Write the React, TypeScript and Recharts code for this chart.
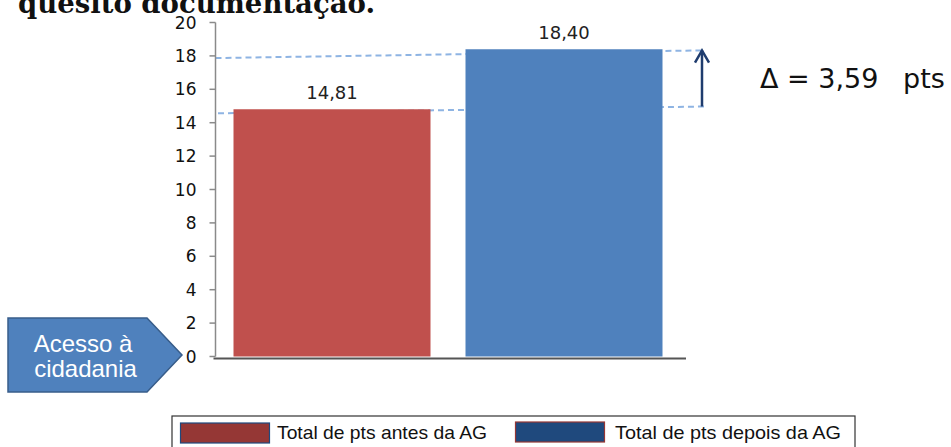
import React from 'react';
import { BarChart, Bar, XAxis, YAxis, ReferenceLine, LabelList, LineChart, Line } from 'recharts';

const categories = ['Acesso à cidadania'];
const seriesNames = ['Total de pts antes da AG', 'Total de pts depois da AG'];
const beforeValues = [14.81];
const afterValues = [18.4];
const yTicks = [0, 2, 4, 6, 8, 10, 12, 14, 16, 18, 20];
const titleText = 'quesito documentação.';

// hand-drawn guide annotations (x on a 0..100 annotation axis, y in points)
const upperGuide = [{ x: 0, y: 17.87 }, { x: 97.3, y: 18.33 }];
const lowerGuide = [{ x: 0.5, y: 14.56 }, { x: 98.1, y: 14.97 }];
const deltaArrow = [{ x: 97.3, y: 14.97 }, { x: 97.3, y: 18.33 }];
const deltaArrowHead = [{ x: 95.9, y: 17.6 }, { x: 97.3, y: 18.33 }, { x: 98.7, y: 17.6 }];

const data = categories.map((c, i) => ({ cat: c, antes: beforeValues[i], depois: afterValues[i] }));
const fmt = (v: number) => Number(v).toFixed(2).replace('.', ',');
const delta = fmt(afterValues[0] - beforeValues[0]);

const RED = '#C0504D';
const BLUE = '#4F81BD';
const DASH = '#8EB4E3';
const NAVY = '#1F3C6E';

const AxisBase = (p: any) => (
  <line x1={p.x1 - 2} y1={p.y1 + 2} x2={p.x2} y2={p.y2 + 2} stroke="#555" strokeWidth={2} />
);

export default function App() {
  return (
    <div style={{ position: 'absolute', left: 0, top: 0, width: 951, height: 447, background: '#fff', overflow: 'hidden' }}>
      <div style={{ position: 'absolute', left: 0, top: 0 }}>
        <LineChart width={951} height={447} margin={{ top: 22.5, right: 235.5, bottom: 90.5, left: 215.5 }}>
          <XAxis type="number" dataKey="x" domain={[0, 100]} hide />
          <YAxis type="number" domain={[0, 20]} hide />
          <Line data={upperGuide} dataKey="y" stroke={DASH} strokeWidth={2} strokeDasharray="6 4" dot={false} isAnimationActive={false} />
          <Line data={lowerGuide} dataKey="y" stroke={DASH} strokeWidth={2} strokeDasharray="6 4" dot={false} isAnimationActive={false} />
          <Line data={deltaArrow} dataKey="y" stroke={NAVY} strokeWidth={2.5} dot={false} isAnimationActive={false} />
          <Line data={deltaArrowHead} dataKey="y" stroke={NAVY} strokeWidth={2.5} dot={false} isAnimationActive={false} />
        </LineChart>
      </div>
      <div style={{ position: 'absolute', left: 0, top: 0 }}>
        <BarChart
          width={951}
          height={447}
          data={data}
          margin={{ top: 22.5, right: 265, bottom: 90.5, left: 155.5 }}
          barSize={197}
          barGap={35}
        >
          <XAxis dataKey="cat" hide padding={{ left: 0, right: 6 }} />
          <YAxis
            width={60}
            domain={[0, 20]}
            ticks={yTicks}
            interval={0}
            tickSize={6}
            tickMargin={13}
            axisLine={{ stroke: '#8a8a8a', strokeWidth: 1.5 }}
            tickLine={{ stroke: '#8a8a8a', strokeWidth: 1.5 }}
            tick={{ fill: '#111', fontSize: 17, fontFamily: 'DejaVu Sans' }}
          />
          <Bar dataKey="antes" name={seriesNames[0]} fill={RED} isAnimationActive={false}>
            <LabelList dataKey="antes" position="top" offset={10} formatter={fmt as any} style={{ fill: '#222', fontSize: 18, fontFamily: 'DejaVu Sans' }} />
          </Bar>
          <Bar dataKey="depois" name={seriesNames[1]} fill={BLUE} isAnimationActive={false}>
            <LabelList dataKey="depois" position="top" offset={10} formatter={fmt as any} style={{ fill: '#222', fontSize: 18, fontFamily: 'DejaVu Sans' }} />
          </Bar>
          <ReferenceLine y={0} ifOverflow="visible" shape={AxisBase} />
        </BarChart>
      </div>
      <svg width={951} height={447} style={{ position: 'absolute', left: 0, top: 0, pointerEvents: 'none' }}>
        <text x={18} y={12.5} fontFamily="DejaVu Serif" fontWeight="bold" fontSize={28} fill="#111" textLength={357} lengthAdjust="spacingAndGlyphs">
          {titleText}
        </text>
        <text x={760} y={88} fontFamily="DejaVu Sans" fontSize={27} fill="#111">{`Δ = ${delta}`}</text>
        <text x={903} y={88} fontFamily="DejaVu Sans" fontSize={27} fill="#111">pts</text>
        <polygon points="8,318 147,318 182,355 147,392 8,392" fill="#4F81BD" stroke="#385D8A" strokeWidth={1.5} />
        <text x={83} y={352} textAnchor="middle" fontFamily="Liberation Sans" fontSize={24} fill="#fff">Acesso à</text>
        <text x={85.5} y={377} textAnchor="middle" fontFamily="Liberation Sans" fontSize={24} fill="#fff">cidadania</text>
        <rect x={172} y={416} width={683} height={40} fill="#fff" stroke="#333" strokeWidth={1.2} />
        <rect x={180.5} y={423} width={89} height={20} fill="#953735" stroke="#1F497D" strokeWidth={1.2} />
        <text x={277} y={438.5} fontFamily="Liberation Sans" fontSize={19} fill="#111" textLength={210} lengthAdjust="spacingAndGlyphs">{seriesNames[0]}</text>
        <rect x={515.5} y={422} width={89} height={20} fill="#1F497D" stroke="#953735" strokeWidth={1.2} />
        <text x={615} y={438.5} fontFamily="Liberation Sans" fontSize={19} fill="#111" textLength={226} lengthAdjust="spacingAndGlyphs">{seriesNames[1]}</text>
      </svg>
    </div>
  );
}
